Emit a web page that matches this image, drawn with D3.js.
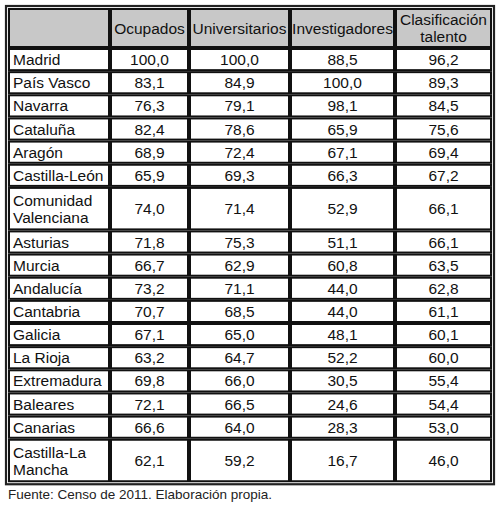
<!DOCTYPE html><html><head><meta charset="utf-8"><script src="https://cdn.jsdelivr.net/npm/d3@7"></script>
<style>body{margin:0;background:#fff}</style></head><body><svg id="c" width="500" height="505"></svg>
<script>
const headers = [[""],["Ocupados"],["Universitarios"],["Investigadores"],["Clasificación","talento"]];
const regions = [["Madrid"],["País Vasco"],["Navarra"],["Cataluña"],["Aragón"],["Castilla-León"],["Comunidad","Valenciana"],["Asturias"],["Murcia"],["Andalucía"],["Cantabria"],["Galicia"],["La Rioja"],["Extremadura"],["Baleares"],["Canarias"],["Castilla-La","Mancha"]];
const ocupados = [100.0,83.1,76.3,82.4,68.9,65.9,74.0,71.8,66.7,73.2,70.7,67.1,63.2,69.8,72.1,66.6,62.1];
const universitarios = [100.0,84.9,79.1,78.6,72.4,69.3,71.4,75.3,62.9,71.1,68.5,65.0,64.7,66.0,66.5,64.0,59.2];
const investigadores = [88.5,100.0,98.1,65.9,67.1,66.3,52.9,51.1,60.8,44.0,44.0,48.1,52.2,30.5,24.6,28.3,16.7];
const talento = [96.2,89.3,84.5,75.6,69.4,67.2,66.1,66.1,63.5,62.8,61.1,60.1,60.0,55.4,54.4,53.0,46.0];
const note = "Fuente: Censo de 2011. Elaboración propia.";

const svg = d3.select("#c");
const font = "'Liberation Sans', Arial, sans-serif";
const colEdges = [8,110,189,290,395,492];
const x = i => colEdges[i];
const singleH = 23.15, doubleH = 43.5, headH = 40;
const rowTops = [8]; let y = 8 + headH;
const rowH = regions.map(r => r.length > 1 ? doubleH : singleH);
regions.forEach((r,i) => { rowTops.push(y); y += rowH[i]; });
const bottom = y;
svg.append("rect").attr("x",6).attr("y",6).attr("width",488).attr("height",bottom-4).attr("fill","none").attr("stroke","#222").attr("stroke-width",2.2);
const fmt = v => d3.format(".1f")(v).replace(".", ",");
const cols = [null, ocupados, universitarios, investigadores, talento];
function cell(ci, top, h, lines, fill, anchor){
  svg.append("rect").attr("x",x(ci)+1).attr("y",top+1).attr("width",x(ci+1)-x(ci)-2).attr("height",h-2)
    .attr("fill",fill).attr("stroke","#111").attr("stroke-width",2);
  const tx = anchor==="start" ? x(ci)+5 : (x(ci)+x(ci+1))/2;
  const lh = 17, cy = top + h/2 - (lines.length-1)*lh/2;
  lines.forEach((t,k) => svg.append("text").attr("x",tx).attr("y",cy+k*lh).attr("dy","0.36em")
    .attr("text-anchor",anchor).attr("font-family",font).attr("font-size",15.5).attr("fill","#111").text(t));
}
headers.forEach((h,ci) => cell(ci, 8, headH, h, "#c8c8c8", "middle"));
regions.forEach((r,ri) => {
  cell(0, rowTops[ri+1], rowH[ri], r, "#fff", "start");
  for (let ci=1; ci<5; ci++) cell(ci, rowTops[ri+1], rowH[ri], [fmt(cols[ci][ri])], "#fff", "middle");
});
svg.append("text").attr("x",8).attr("y",bottom+12).attr("dy","0.36em").attr("font-family",font).attr("font-size",13.5).attr("fill","#222").text(note);
</script></body></html>
